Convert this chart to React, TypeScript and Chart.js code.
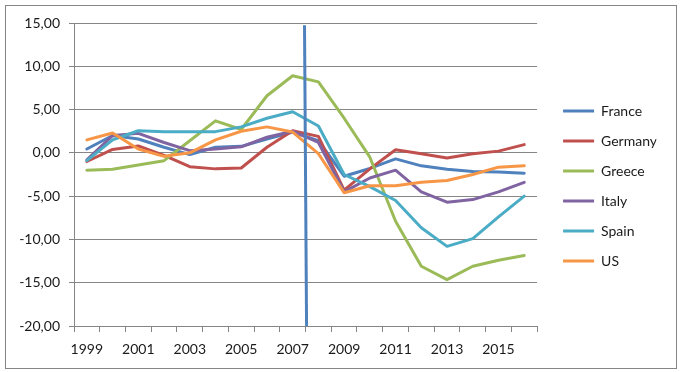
import React, { useEffect, useRef } from 'react';
import { Chart, registerables } from 'chart.js';

Chart.register(...registerables);

const years = ['1999', '2000', '2001', '2002', '2003', '2004', '2005', '2006', '2007', '2008', '2009', '2010', '2011', '2012', '2013', '2014', '2015', '2016'];

const france = [0.45, 2.0, 1.6, 0.65, -0.2, 0.65, 0.75, 1.6, 2.4, 1.4, -2.7, -1.8, -0.7, -1.5, -1.9, -2.15, -2.2, -2.35];
const germany = [-1.0, 0.4, 0.8, -0.3, -1.6, -1.85, -1.75, 0.65, 2.55, 1.9, -4.3, -1.85, 0.35, -0.1, -0.6, -0.1, 0.2, 0.95];
const greece = [-2.0, -1.9, -1.4, -0.9, 1.4, 3.7, 2.7, 6.6, 8.9, 8.2, 4.0, -0.5, -7.9, -13.1, -14.65, -13.1, -12.4, -11.85];
const italy = [-0.8, 2.0, 2.25, 1.2, 0.25, 0.45, 0.7, 1.8, 2.5, 1.2, -4.5, -2.9, -2.0, -4.5, -5.7, -5.4, -4.5, -3.4];
const spain = [-0.9, 1.5, 2.55, 2.45, 2.45, 2.45, 3.0, 4.0, 4.75, 3.1, -2.5, -3.9, -5.5, -8.65, -10.8, -9.9, -7.4, -5.0];
const us = [1.5, 2.3, 0.45, -0.4, 0.0, 1.5, 2.5, 3.0, 2.4, -0.1, -4.6, -3.8, -3.8, -3.4, -3.2, -2.5, -1.65, -1.5];

const seriesNames = ['France', 'Germany', 'Greece', 'Italy', 'Spain', 'US'];
const seriesColors = ['#4F81BD', '#C0504D', '#9BBB59', '#8064A2', '#4BACC6', '#F79646'];

// vertical marker line (x in years, y in values)
const markerX = [2007.46, 2007.54];
const markerY = [14.73, -20];

const yMin = -20;
const yMax = 15;
const yStep = 5;

const FONT = 'Lato';
const TEXT = '#1a1a1a';
const GRID = '#868686';

export default function App() {
  const ref = useRef<HTMLCanvasElement>(null);

  useEffect(() => {
    const canvas = ref.current;
    if (!canvas) return;
    const values = [france, germany, greece, italy, spain, us];
    const chart = new Chart(canvas, {
      type: 'line',
      data: {
        labels: years,
        datasets: [
          {
            label: 'marker',
            data: markerX.map((x, i) => ({ x, y: markerY[i] })),
            xAxisID: 'xv',
            yAxisID: 'y',
            borderColor: seriesColors[0],
            backgroundColor: seriesColors[0],
            borderWidth: 3,
            pointRadius: 0,
            tension: 0,
            order: -1,
          } as any,
          ...values.map((v, i) => ({
            label: seriesNames[i],
            data: v,
            xAxisID: 'x',
            yAxisID: 'y',
            borderColor: seriesColors[i],
            backgroundColor: seriesColors[i],
            borderWidth: 3,
            pointRadius: 0,
            tension: 0,
            borderCapStyle: 'round',
            borderJoinStyle: 'round',
            order: 10 - i,
          })),
        ],
      },
      options: {
        responsive: false,
        animation: false,
        devicePixelRatio: 1,
        layout: { padding: { left: 0, top: 23, right: 0, bottom: 0 } },
        plugins: {
          tooltip: { enabled: false },
          legend: {
            position: 'right',
            fullSize: false,
            title: {
              display: true,
              text: ' ',
              padding: 0,
              font: { family: FONT, size: 23, lineHeight: 1 },
            },
            labels: {
              boxWidth: 31,
              boxHeight: 3,
              padding: 16,
              color: TEXT,
              font: { family: FONT, size: 14 },
              generateLabels: (ch: any) =>
                ch.data.datasets
                  .map((ds: any, i: number) => ({
                    text: ds.label,
                    fillStyle: ds.borderColor,
                    strokeStyle: ds.borderColor,
                    lineWidth: 0,
                    hidden: false,
                    datasetIndex: i,
                    fontColor: TEXT,
                  }))
                  .filter((l: any) => l.datasetIndex !== 0),
            },
          },
        },
        scales: {
          x: {
            type: 'category',
            offset: true,
            grid: { offset: true, drawOnChartArea: false, drawTicks: true, tickLength: 6, color: GRID },
            border: { display: true, color: GRID },
            ticks: {
              autoSkip: false,
              maxRotation: 0,
              minRotation: 0,
              padding: 9,
              color: TEXT,
              font: { family: FONT, size: 14 },
              callback: (_v: any, i: number) => (i % 2 === 0 ? years[i] : ''),
            },
            afterFit: (s: any) => {
              s.height = 46;
            },
          },
          xv: {
            type: 'linear',
            display: false,
            min: 1998.5,
            max: 2016.5,
          },
          y: {
            type: 'linear',
            position: 'left',
            min: yMin,
            max: yMax,
            grid: { color: GRID, tickLength: 5, drawTicks: true },
            border: { display: true, color: GRID },
            ticks: {
              stepSize: yStep,
              padding: 9,
              color: TEXT,
              font: { family: FONT, size: 14 },
              callback: (v: any) => Number(v).toFixed(2).replace('.', ','),
            },
            afterFit: (s: any) => {
              s.width = 74;
            },
          },
          yr: {
            type: 'linear',
            position: 'right',
            display: true,
            grid: { display: false, drawTicks: false },
            border: { display: false },
            ticks: { display: false },
            afterFit: (s: any) => {
              s.width = 10;
            },
          },
        },
      } as any,
    });
    // place the legend column so that its left edge sits at the target position
    const lg: any = (chart as any).legend;
    const targetLeft = 543;
    if (lg) {
      const delta = lg.left - targetLeft;
      (chart.options as any).layout.padding.right = Math.max(0, delta);
      chart.update();
    }
    return () => chart.destroy();
  }, []);

  return (
    <div style={{ position: 'fixed', left: 0, top: 0, width: 681, height: 372, background: '#fff' }}>
      <canvas ref={ref} width={681} height={372} style={{ position: 'absolute', left: 0, top: 0, width: 681, height: 372 }} />
      <div
        style={{
          position: 'absolute',
          left: 5,
          top: 5,
          width: 672,
          height: 364,
          boxSizing: 'border-box',
          border: '1px solid #868686',
          pointerEvents: 'none',
        }}
      />
    </div>
  );
}
